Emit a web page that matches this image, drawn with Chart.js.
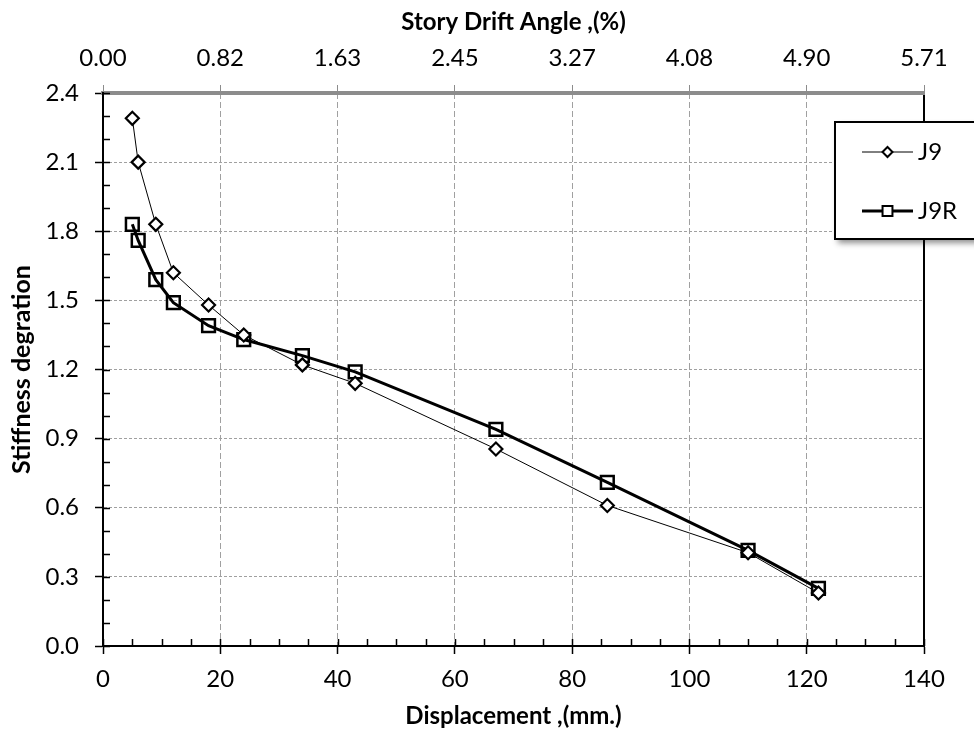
<!DOCTYPE html>
<html>
<head>
<meta charset="utf-8">
<script src="https://cdn.jsdelivr.net/npm/chart.js@4/dist/chart.umd.min.js"></script>
<style>
  html, body { margin: 0; padding: 0; background: #fff; }
  #wrap { width: 974px; height: 733px; position: relative; }
</style>
</head>
<body>
<div id="wrap"><canvas id="chart"></canvas></div>
<script>
// data
const displacement = [5, 6, 9, 12, 18, 24, 34, 43, 67, 86, 110, 122];
const j9 = [2.29, 2.10, 1.83, 1.62, 1.48, 1.35, 1.22, 1.14, 0.855, 0.61, 0.405, 0.23];
const j9r = [1.83, 1.76, 1.59, 1.49, 1.39, 1.33, 1.26, 1.19, 0.94, 0.71, 0.415, 0.25];
const driftTickLabels = ['0.00', '0.82', '1.63', '2.45', '3.27', '4.08', '4.90', '5.71'];

const FONT = 'Lato';

function toPoints(ys) {
    return displacement.map((x, i) => ({ x: x, y: ys[i] }));
}

// small inward ticks, right border line
const axisExtras = {
    id: 'axisExtras',
    afterDatasetsDraw(chart) {
        const ctx = chart.ctx;
        const x = chart.scales.x, y = chart.scales.y;
        const a = chart.chartArea;
        ctx.save();
        ctx.strokeStyle = '#000';
        ctx.lineWidth = 1.5;
        ctx.beginPath();
        for (let v = 0; v <= 140; v += 5) {
            const px = Math.round(x.getPixelForValue(v)) + 0.5;
            ctx.moveTo(px, a.bottom);
            ctx.lineTo(px, a.bottom - 7);
        }
        for (let k = 0; k <= 24; k++) {
            const py = Math.round(y.getPixelForValue(k / 10)) + 0.5;
            ctx.moveTo(a.left, py);
            ctx.lineTo(a.left + 7, py);
        }
        ctx.stroke();
        ctx.lineWidth = 2;
        ctx.beginPath();
        ctx.moveTo(a.right, a.top + 2);
        ctx.lineTo(a.right, a.bottom);
        ctx.stroke();
        ctx.restore();
    }
};

// boxed legend sitting over the right edge
const legendBox = {
    id: 'legendBox',
    afterDraw(chart) {
        const ctx = chart.ctx;
        const bx = 835, by = 122, bw = 160, bh = 117;
        ctx.save();
        ctx.shadowColor = 'rgba(0,0,0,0.45)';
        ctx.shadowBlur = 6;
        ctx.shadowOffsetX = 3;
        ctx.shadowOffsetY = 4;
        ctx.fillStyle = '#fff';
        ctx.fillRect(bx, by, bw, bh);
        ctx.shadowColor = 'transparent';
        ctx.strokeStyle = '#000';
        ctx.lineWidth = 2;
        ctx.strokeRect(bx, by, bw, bh);
        chart.data.datasets.forEach((ds, i) => {
            const ly = 152 + i * 59;
            ctx.strokeStyle = '#000';
            ctx.lineWidth = ds.borderWidth;
            ctx.beginPath();
            ctx.moveTo(862, ly);
            ctx.lineTo(913, ly);
            ctx.stroke();
            ctx.fillStyle = '#fff';
            ctx.lineWidth = 2;
            Chart.helpers.drawPoint(ctx, {
                pointStyle: ds.pointStyle,
                rotation: 0,
                radius: ds.pointStyle === 'rect' ? 7 : 5,
                borderWidth: 2
            }, 887.5, ly);
            ctx.fillStyle = '#000';
            ctx.font = '24px ' + FONT;
            ctx.textBaseline = 'middle';
            ctx.textAlign = 'left';
            ctx.fillText(ds.label, 918, ly);
        });
        ctx.restore();
    }
};

const tickFont = { family: FONT, size: 24 };
const titleFont = { family: FONT, size: 24, weight: 'bold' };

new Chart(document.getElementById('chart'), {
    type: 'line',
    data: {
        datasets: [{
            label: 'J9',
            data: toPoints(j9),
            borderColor: '#000',
            borderWidth: 1,
            pointStyle: 'rectRot',
            pointRadius: 6.5,
            pointBorderWidth: 2.2,
            pointBackgroundColor: '#fff',
            pointBorderColor: '#000',
            tension: 0
        }, {
            label: 'J9R',
            data: toPoints(j9r),
            borderColor: '#000',
            borderWidth: 3,
            pointStyle: 'rect',
            pointRadius: 9,
            pointBorderWidth: 2.5,
            pointBackgroundColor: 'rgba(255,255,255,0)',
            pointBorderColor: '#000',
            tension: 0
        }]
    },
    options: {
        responsive: true,
        maintainAspectRatio: false,
        animation: false,
        layout: { padding: { right: 50 } },
        plugins: {
            legend: { display: false },
            tooltip: { enabled: false }
        },
        scales: {
            x: {
                type: 'linear',
                position: 'bottom',
                min: 0,
                max: 140,
                ticks: { stepSize: 20, color: '#000', font: tickFont, padding: 11, maxRotation: 0 },
                grid: { color: '#a0a0a0', tickColor: '#000', tickLength: 8, tickWidth: 1.5, tickBorderDash: [] },
                border: { display: true, color: '#000', width: 2, dash: [6, 3] },
                title: { display: true, text: 'Displacement ,(mm.)', color: '#000', font: titleFont, padding: { top: 0, bottom: 2 } },
                afterFit(s) { s.height = 87; }
            },
            x2: {
                type: 'linear',
                position: 'top',
                min: 0,
                max: 140,
                ticks: {
                    stepSize: 20,
                    color: '#000',
                    font: tickFont,
                    padding: 12,
                    maxRotation: 0,
                    callback: (v) => driftTickLabels[Math.round(v / 20)]
                },
                grid: { drawOnChartArea: false, tickColor: '#8c8c8c', tickLength: 8, tickWidth: 1 },
                border: { display: true, color: '#8c8c8c', width: 4 },
                title: { display: true, text: 'Story Drift Angle ,(%)', color: '#000', font: titleFont, padding: { top: 8, bottom: 0 } },
                afterFit(s) { s.height = 93; }
            },
            y: {
                min: 0,
                max: 2.4,
                ticks: {
                    stepSize: 0.3,
                    color: '#000',
                    font: tickFont,
                    padding: 16,
                    callback: (v) => v.toFixed(1)
                },
                grid: { color: '#a0a0a0', tickColor: '#000', tickLength: 8, tickWidth: 1.5, tickBorderDash: [] },
                border: { display: true, color: '#000', width: 2, dash: [3, 2] },
                title: { display: true, text: 'Stiffness degration', color: '#000', font: { family: FONT, size: 25, weight: 'bold' }, padding: { top: 7, bottom: 0 } },
                afterFit(s) { s.width = 103; }
            }
        }
    },
    plugins: [axisExtras, legendBox]
});
</script>
</body>
</html>
